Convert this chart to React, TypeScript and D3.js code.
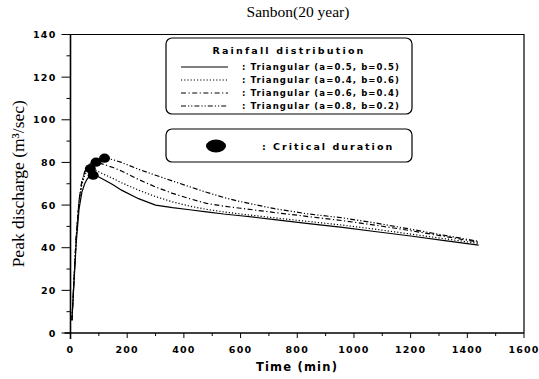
import React from 'react';
import * as d3 from 'd3';

const times = [5, 10, 20, 30, 40, 50, 60, 70, 80, 90, 100, 120, 150, 180, 240, 300, 360, 420, 480, 540, 600, 720, 840, 960, 1080, 1200, 1320, 1440];

const tri55 = [6, 18, 42, 58, 66, 70, 72.5, 73.6, 74, 73.8, 73.2, 71.8, 69.5, 67, 63, 60, 58.8, 57.8, 56.8, 55.8, 55, 53.2, 51.3, 49.5, 47.5, 45.5, 43.3, 41.2];
const tri46 = [6, 19, 44, 61, 69.5, 74, 76.3, 77, 76.8, 76.3, 75.6, 74.3, 72.5, 70.5, 67, 64, 61.5, 59.5, 58, 56.8, 55.8, 54, 52.3, 50.6, 48.6, 46.4, 44.2, 42];
const tri64 = [6, 19, 45, 62, 71, 75.5, 78, 79.3, 80, 80.1, 79.8, 79, 77.6, 76, 72, 68.5, 65.5, 63, 60.8, 59.5, 58.5, 56.5, 54.6, 52.7, 50.5, 48, 45.3, 42.6];
const tri82 = [6, 19, 45, 62, 71, 75.5, 78, 79.5, 80.5, 81.2, 81.6, 82, 81.3, 80, 76.8, 74, 71.3, 68.6, 66, 63.6, 61.6, 58.3, 55.8, 54, 51.5, 48.7, 45.8, 43];

const seriesNames = [
  ': Triangular (a=0.5, b=0.5)',
  ': Triangular (a=0.4, b=0.6)',
  ': Triangular (a=0.6, b=0.4)',
  ': Triangular (a=0.8, b=0.2)',
];
const seriesValues = [tri55, tri46, tri64, tri82];
const dashes = ['none', '1.2,2', '5,2.5,1.2,2.5', '5,2,1.2,2,1.2,2'];

// critical durations (peaks)
const peakTimes = [80, 70, 90, 120];
const peakValues = [74, 77, 80.1, 82];

const xTicks = [0, 200, 400, 600, 800, 1000, 1200, 1400, 1600];
const yTicks = [0, 20, 40, 60, 80, 100, 120, 140];

const W = 539;
const H = 379;
const m = { left: 70.5, right: 15, top: 34.5, bottom: 46 };

const tickFont = { fontFamily: 'DejaVu Sans', fontWeight: 'bold' as const, fontSize: 9.5, letterSpacing: 1.2 };

export default function App() {
  const x = d3.scaleLinear().domain([0, 1600]).range([m.left, W - m.right]);
  const y = d3.scaleLinear().domain([0, 140]).range([H - m.bottom, m.top]);
  const line = d3.line<number>().x((_, i) => x(times[i])).y((d) => y(d));

  const x0 = x(0), x1 = x(1600), y0 = y(0), y1 = y(140);

  return (
    <svg width={W} height={H} style={{ position: 'absolute', left: 0, top: 0, background: '#fff' }}>
      <text x={298} y={17} textAnchor="middle" fontFamily="Liberation Serif" fontSize={15.5}>Sanbon(20 year)</text>

      {/* frame */}
      <path d={`M${x0},${y1}H${x1}V${y0}`} fill="none" stroke="#000" strokeWidth={1.2} />
      <line x1={x0} x2={x0} y1={y1} y2={y0 + 6} stroke="#000" strokeWidth={1.6} />
      <line x1={x0 - 6} x2={x1} y1={y0} y2={y0} stroke="#000" strokeWidth={1.6} />

      {/* y ticks */}
      {d3.range(0, 141, 10).map((v) => (
        <line key={'yt' + v} x1={x0 - (v % 20 === 0 ? 9 : 4)} x2={x0} y1={y(v)} y2={y(v)} stroke="#000" strokeWidth={1} />
      ))}
      {yTicks.map((v) => (
        <text key={'yl' + v} x={x0 - 14} y={y(v) + 3.5} textAnchor="end" {...tickFont}>{v}</text>
      ))}

      {/* x ticks */}
      {d3.range(0, 1601, 100).map((v) => (
        <line key={'xt' + v} x1={x(v)} x2={x(v)} y1={y0} y2={y0 + (v % 200 === 0 ? 5 : 3)} stroke="#000" strokeWidth={1} />
      ))}
      {xTicks.map((v) => (
        <text key={'xl' + v} x={x(v)} y={y0 + 20} textAnchor="middle" {...tickFont}>{v}</text>
      ))}

      <text x={297} y={371} textAnchor="middle" fontFamily="DejaVu Sans" fontWeight="bold" fontSize={11.5} letterSpacing={1.2}>Time (min)</text>
      <text transform={`translate(24,${(y0 + y1) / 2}) rotate(-90)`} textAnchor="middle" fontFamily="Liberation Serif" fontSize={17.5}>
        Peak discharge (m³/sec)
      </text>

      {/* curves */}
      {seriesValues.map((vals, i) => (
        <path key={'s' + i} d={line(vals) || ''} fill="none" stroke="#000" strokeWidth={1.2} strokeDasharray={dashes[i]} />
      ))}
      {peakTimes.map((t, i) => (
        <ellipse key={'p' + i} cx={x(t)} cy={y(peakValues[i])} rx={5.5} ry={4.6} fill="#000" />
      ))}

      {/* legend */}
      <rect x={166} y={38} width={246} height={76} rx={6} fill="#fff" stroke="#000" strokeWidth={1.2} />
      <text x={289} y={54} textAnchor="middle" fontFamily="DejaVu Sans" fontWeight="bold" fontSize={9.5} letterSpacing={2.2}>Rainfall distribution</text>
      {seriesNames.map((name, i) => (
        <g key={'lg' + i}>
          <line x1={181} x2={228} y1={67 + i * 13} y2={67 + i * 13} stroke="#000" strokeWidth={1} strokeDasharray={dashes[i]} />
          <text x={242} y={70 + i * 13} fontFamily="DejaVu Sans" fontWeight="bold" fontSize={8.5} letterSpacing={1.1}>{name}</text>
        </g>
      ))}
      <rect x={166} y={129} width={246} height={33} rx={6} fill="#fff" stroke="#000" strokeWidth={1.2} />
      <ellipse cx={216} cy={146} rx={10} ry={6.5} fill="#000" />
      <text x={262} y={149.5} fontFamily="DejaVu Sans" fontWeight="bold" fontSize={9.5} letterSpacing={2}>: Critical duration</text>
    </svg>
  );
}
